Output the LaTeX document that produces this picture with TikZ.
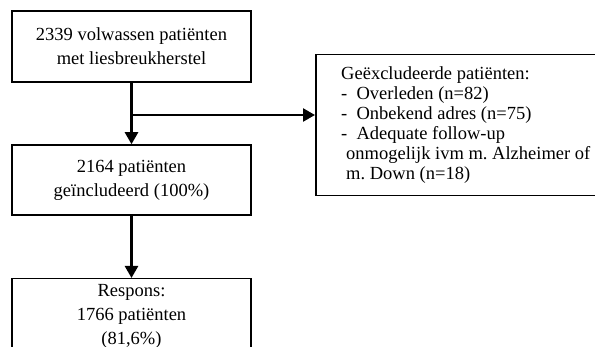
\documentclass[tikz,border=0pt]{standalone}
\usepackage{fontspec}
\setmainfont{Liberation Serif}
\usetikzlibrary{arrows.meta}
\frenchspacing
\tikzset{
  stapbox/.style={draw, line width=1.5pt, minimum width=239pt, align=center, inner sep=0pt},
  pijl/.style={line width=2.4pt, -{Triangle[length=12pt, width=13pt]}},
}
\begin{document}
\begin{tikzpicture}[x=1pt, y=-1pt]
  \useasboundingbox (0,0) rectangle (595,347);
  \clip (0,0) rectangle (595,347);
  \fontsize{18.5}{24}\selectfont

  \node[stapbox, minimum height=71pt] (totaal) at (131.5,46.5) {2339 volwassen patiënten\\met liesbreukherstel};
  \node[stapbox, minimum height=70pt] (incl) at (131.5,180) {2164 patiënten\\geïncludeerd (100\%)};
  \node[stapbox, minimum height=110pt, anchor=north] (resp) at (131.5,278) {};
  \node[anchor=north, align=center, inner sep=0pt] (resptxt) at (131.5,284) {\fontsize{18.5}{21}\selectfont Respons:\\1766 patiënten\\(81,6\%)};
  \node[draw, line width=1.5pt, anchor=north west, minimum height=141pt, minimum width=300pt, inner xsep=22pt, inner ysep=0pt] (excl) at (315,54)
    {\fontsize{18.5}{20}\selectfont
     \begin{tabular}{@{}l@{}}
     Geëxcludeerde patiënten:\\
     -~~Overleden (n=82)\\
     -~~Onbekend adres (n=75)\\
     -~~Adequate follow-up\\
     \hspace*{5pt}onmogelijk ivm m. Alzheimer of\\
     \hspace*{5pt}m. Down (n=18)
     \end{tabular}};
  \coordinate (splits) at (131.5,115);

  \draw[pijl] (totaal) -- (incl);
  \draw[pijl] (splits) -- (splits -| excl.west);
  \draw[pijl] (incl) -- (resp);
\end{tikzpicture}
\end{document}
